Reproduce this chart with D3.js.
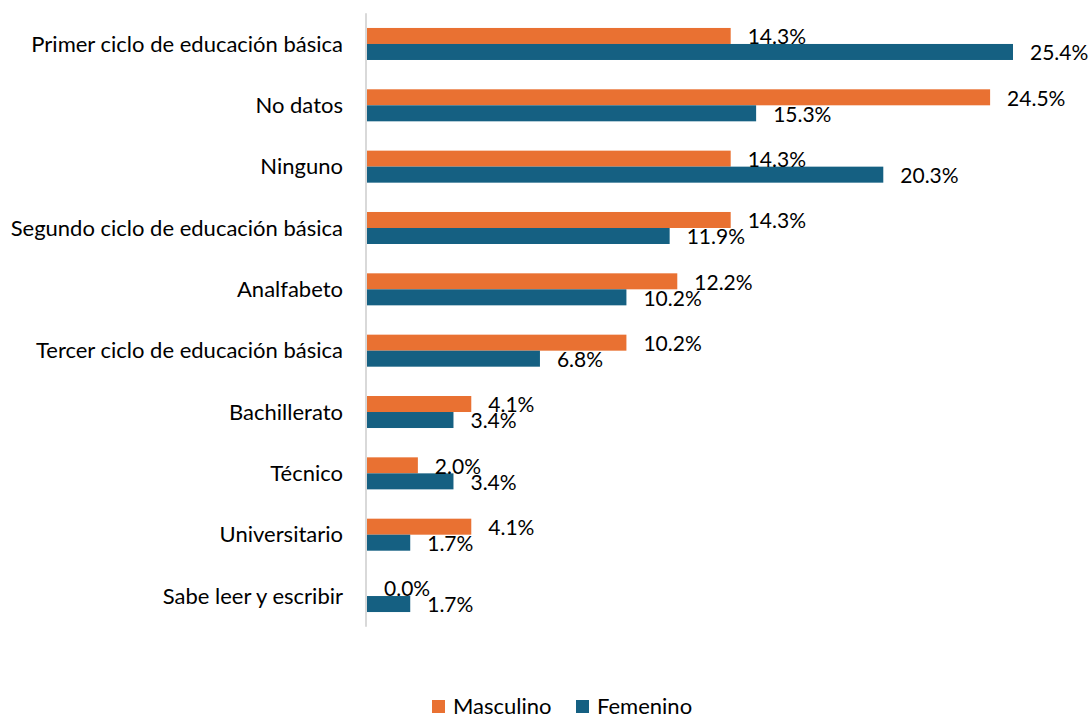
<!DOCTYPE html>
<html>
<head>
<meta charset="utf-8">
<script src="https://cdn.jsdelivr.net/npm/d3@7"></script>
<style>
  body { margin: 0; background: #fff; }
  svg { display: block; font-family: Lato, "Open Sans", sans-serif; }
</style>
</head>
<body>
<svg width="1092" height="715"></svg>
<script>
const categories = [
  'Primer ciclo de educación básica',
  'No datos',
  'Ninguno',
  'Segundo ciclo de educación básica',
  'Analfabeto',
  'Tercer ciclo de educación básica',
  'Bachillerato',
  'Técnico',
  'Universitario',
  'Sabe leer y escribir'
];
const seriesNames = ['Masculino', 'Femenino'];
const masculino = [14.3, 24.5, 14.3, 14.3, 12.2, 10.2, 4.1, 2.0, 4.1, 0.0];
const femenino = [25.4, 15.3, 20.3, 11.9, 10.2, 6.8, 3.4, 3.4, 1.7, 1.7];
const colors = ['#E97132', '#156082'];

const svg = d3.select('svg');

// table built from the arrays above
const rows = categories.map((c, i) => ({ cat: c, values: [masculino[i], femenino[i]] }));

const x = d3.scaleLinear().domain([0, 25.4]).range([367, 1013]);
const y = d3.scaleBand().domain(categories).range([13.3, 626.7]).paddingInner(0.478).paddingOuter(0.239);
const sub = d3.scaleBand().domain(seriesNames).range([0, y.bandwidth()]);

// category labels
svg.append('g').selectAll('text')
  .data(categories)
  .join('text')
  .attr('x', 343)
  .attr('y', d => y(d) + y.bandwidth() / 2)
  .attr('dy', '0.35em')
  .attr('text-anchor', 'end')
  .attr('font-size', 22)
  .attr('fill', '#000')
  .text(d => d);

// bars
const groups = svg.append('g').selectAll('g')
  .data(rows)
  .join('g')
  .attr('transform', d => `translate(0, ${y(d.cat)})`);

groups.selectAll('rect')
  .data(d => d.values.map((v, k) => ({ v, s: seriesNames[k], k })))
  .join('rect')
  .attr('x', x(0))
  .attr('y', d => sub(d.s))
  .attr('width', d => x(d.v) - x(0))
  .attr('height', sub.bandwidth())
  .attr('fill', d => colors[d.k]);

groups.selectAll('text')
  .data(d => d.values.map((v, k) => ({ v, s: seriesNames[k], k })))
  .join('text')
  .attr('x', d => x(d.v) + 17)
  .attr('y', d => sub(d.s) + sub.bandwidth() / 2 + 1)
  .attr('dy', '0.35em')
  .attr('font-size', 21)
  .attr('fill', '#000')
  .text(d => d.v.toFixed(1) + '%');

// vertical axis line
svg.append('line')
  .attr('x1', 366).attr('x2', 366)
  .attr('y1', y.range()[0]).attr('y2', y.range()[1])
  .attr('stroke', '#d9d9d9')
  .attr('stroke-width', 2);

// legend
const legend = svg.append('g').attr('transform', 'translate(432, 700)');
const legendX = [0, 144];
seriesNames.forEach((name, k) => {
  const item = legend.append('g').attr('transform', `translate(${legendX[k]}, 0)`);
  item.append('rect').attr('width', 13).attr('height', 13).attr('fill', colors[k]);
  item.append('text')
    .attr('x', 21).attr('y', 6.5).attr('dy', '0.35em')
    .attr('font-size', 22)
    .text(name);
});
</script>
</body>
</html>
